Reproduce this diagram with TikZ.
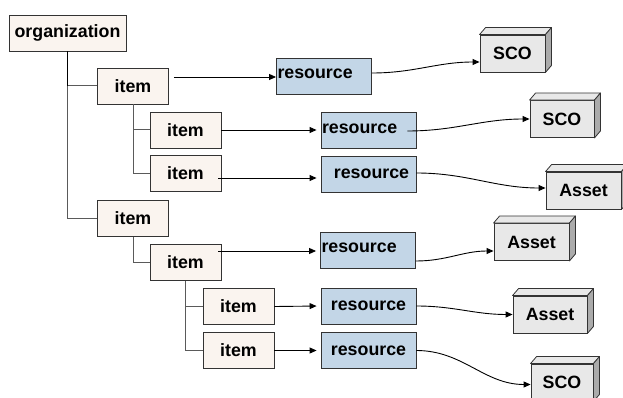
\documentclass[tikz,border=0pt]{standalone}
\usepackage{fontspec}
\setmainfont{Liberation Sans}
\usetikzlibrary{arrows.meta,calc}
\definecolor{itemfill}{HTML}{FAF4EF}
\definecolor{resfill}{HTML}{C3D6E7}
\definecolor{cubefront}{HTML}{E8E8E8}
\definecolor{cubeside}{HTML}{ABABAB}
\definecolor{treeline}{HTML}{5A5A5A}
\definecolor{boxline}{HTML}{333333}
\begin{document}
\begin{tikzpicture}[x=1pt,y=-1pt,
  font=\fontsize{17.8}{20}\selectfont\bfseries,
  box/.style={draw=boxline,line width=0.9pt,inner sep=0pt,anchor=center},
  itembox/.style={box,fill=itemfill,minimum width=71pt,minimum height=36pt},
  resbox/.style={box,fill=resfill,minimum width=95pt,minimum height=36pt},
  resleft/.style={resbox,text width=93pt,align=left,inner xsep=1pt},
  cube/.style={box,fill=cubefront,minimum height=37pt},
  tree/.style={draw=treeline,line width=1pt},
  link/.style={draw=black,line width=0.9pt,-{Triangle[length=7pt,width=6pt]}},
  flow/.style={link,shorten >=4pt},
]
\useasboundingbox (0,0) rectangle (623,398);

% organization tree
\node[itembox,minimum width=117pt] (org) at (67.5,33) {organization};
\node[itembox] (i1)   at (133,86)      {item};
\node[itembox] (i1a)  at (185.5,130)   {item};
\node[itembox] (i1b)  at (185.5,173.5) {item};
\node[itembox] (i2)   at (133,218.5)   {item};
\node[itembox] (i2a)  at (185.5,262.5) {item};
\node[itembox] (i2aa) at (238.5,306.5) {item};
\node[itembox] (i2ab) at (238.5,350.5) {item};

% resources
\node[resleft] (r1) at (324,76)      {\raisebox{5pt}{resource}};
\node[resleft] (r2) at (368.5,130)   {\raisebox{2pt}{resource}};
\node[resbox]  (r3) at (368.5,174)   {\raisebox{1pt}{\hspace{6pt}resource}};
\node[resleft] (r4) at (368,250)     {\raisebox{5pt}{resource}};
\node[resbox]  (r5) at (368.5,306)   {resource};
\node[resbox]  (r6) at (368.5,350.5) {resource};

% content packages (raised boxes)
\node[cube,minimum width=65pt] (s1) at (512.5,53.5) {SCO};
\node[cube,minimum width=64pt] (s2) at (562,119)    {SCO};
\node[cube,minimum width=75pt] (a1) at (583.5,190.5){Asset};
\node[cube,minimum width=75pt] (a2) at (531.5,242)  {Asset};
\node[cube,minimum width=74pt] (a3) at (550,314.5)  {Asset};
\node[cube,minimum width=62pt] (s3) at (562,382.5)  {SCO};
\foreach \n in {s1,s2,a1,a2,a3,s3}{
  \draw[boxline,line width=0.8pt,fill=cubefront,line join=round]
    (\n.north west) -- ++(6,-7) -- ([shift={(6pt,7pt)}]\n.north east) -- (\n.north east) -- cycle;
  \draw[boxline,line width=0.8pt,fill=cubeside,line join=round]
    (\n.north east) -- ++(6,-7) -- ([shift={(6pt,7pt)}]\n.south east) -- (\n.south east) -- cycle;
}

% tree branches
\draw[tree] (org.south) -- (org.south |- i2.west) -- (i2.west);
\draw[tree] (org.south |- i1.west) -- (i1.west);
\draw[black,line width=1.3pt] (org.south) -- (org.south |- i1.west);
\draw[tree] (i1.south) -- (i1.south |- i1b.west) -- (i1b.west);
\draw[tree] (i1.south |- i1a.west) -- (i1a.west);
\draw[tree] (i2.south) -- (i2.south |- i2a.west) -- (i2a.west);
\draw[tree] (i2a.south) -- (i2a.south |- i2ab.west) -- (i2ab.west);
\draw[tree] (i2a.south |- i2aa.west) -- (i2aa.west);

% item to resource references
\coordinate (p1) at ([xshift=5pt,yshift=9pt]i1.east);
\coordinate (p3) at ([xshift=-3pt,yshift=-4.5pt]i1b.east);
\coordinate (p4) at ([xshift=-3pt,yshift=11.5pt]i2a.east);
\draw[link] (p1) -- (p1 -| r1.west);
\draw[flow] (i1a.east) -- (r2.west);
\draw[flow] (p3) -- (p3 -| r3.west);
\draw[flow] (p4) -- (p4 -| r4.west);
\draw[flow] (i2aa.east) -- (r5.west);
\draw[flow] (i2ab.east) -- (r6.west);

% resource to package links
\draw[link] ([yshift=3pt]r1.east) to[out=0,in=180] ([yshift=-8.5pt]s1.west);
\draw[link] ([xshift=-9pt,yshift=-1pt]r2.east) to[out=0,in=180] (s2.west);
\draw[link] ([yshift=1pt]r3.east) to[out=0,in=180] ([yshift=2.5pt]a1.west);
\draw[link] ([yshift=-11pt]r4.east) to[out=0,in=180] ([yshift=-9pt]a2.west);
\draw[link] (r5.east) to[out=0,in=180] (a3.west);
\draw[link] (r6.east) to[out=0,in=180] ([yshift=-2pt]s3.west);
\end{tikzpicture}
\end{document}
